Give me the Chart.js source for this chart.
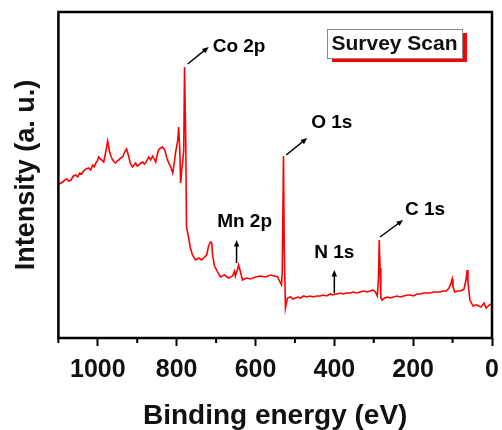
<!DOCTYPE html>
<html>
<head>
<meta charset="utf-8">
<script src="https://cdn.jsdelivr.net/npm/chart.js@4"></script>
<style>
    html, body { margin: 0; padding: 0; background: #ffffff; overflow: hidden; }
    #wrap { width: 502px; height: 430px; }
</style>
</head>
<body>
<div id="wrap"><canvas id="xpsChart" width="502" height="430"></canvas></div>
<script>
// Dados do espectro
const bindingEnergy = [
    1100, 1094, 1089, 1084, 1079, 1074, 1068, 1062, 1056, 1051, 1046, 1041, 1036, 1030, 1023, 1018, 1013, 1009, 1005,
    1001, 998, 994, 990, 985, 980, 975, 970, 966, 962, 958, 955, 951, 947, 942, 937,
    932, 927, 922, 917, 912, 908, 904, 900, 896, 891, 886, 882, 879, 875, 871,
    866, 861, 857, 853, 850, 846, 841, 836, 830, 825, 820, 815,
    810, 805, 803, 797, 795, 792, 790, 787, 785, 782,
    780, 777, 775, 770, 765, 760, 752, 744, 737, 729,
    724, 719, 714, 711, 709, 704, 696, 689, 679, 668,
    658, 653, 651, 646, 643, 638, 633, 623, 613, 600,
    587, 575, 562, 552, 544, 539, 534, 532, 529, 527,
    524, 519, 511, 505, 499, 492, 486, 478, 470, 461,
    453, 445, 436, 428, 420, 410, 404, 398, 392, 385,
    377, 370, 360, 352, 343, 334, 325, 317, 309, 302,
    296, 291, 288, 286, 284, 282, 279, 272, 265, 258,
    250, 241, 233, 224, 215, 208, 199, 190, 182, 173,
    165, 157, 148, 140, 132, 124, 116, 109, 104, 101,
    99, 94, 88, 81, 75, 71, 66, 63, 61, 56,
    48, 43, 38, 33, 28, 20, 15, 10, 3
];
const intensity = [
    153, 155, 156, 158, 159, 157, 158, 162, 163, 161, 165, 164, 167, 169, 170, 168, 173, 171, 175,
    177, 181, 179, 178, 176, 186, 197, 186, 181, 178, 176, 175, 177, 178, 180, 181,
    186, 189, 182, 174, 171, 173, 175, 172, 173, 175, 176, 174, 175, 178, 181,
    178, 182, 179, 176, 182, 188, 190, 191, 188, 180, 175, 171,
    165, 178, 185, 198, 211, 188, 155, 168, 175, 188,
    271, 198, 111, 101, 90, 83, 78, 80, 78, 81,
    83, 92, 96, 95, 83, 72, 66, 61, 63, 60,
    62, 67, 62, 68, 73, 66, 58, 60, 59, 61,
    62, 61, 63, 62, 61, 57, 53, 68, 182, 88,
    30, 40, 41, 39, 40, 41, 40, 42, 41, 42,
    41, 42, 42, 43, 42, 44, 43, 44, 44, 45,
    44, 45, 45, 46, 45, 46, 47, 46, 47, 48,
    46, 42, 60, 98, 70, 40, 38, 40, 41, 40,
    41, 42, 41, 42, 43, 43, 42, 44, 44, 45,
    45, 45, 46, 46, 46, 47, 47, 50, 55, 59,
    51, 46, 47, 47, 48, 49, 58, 68, 56, 38,
    32, 33, 33, 32, 31, 35, 30, 32, 34
];

const majorTicks = [1000, 800, 600, 400, 200, 0];
const minorTicks = [1100, 900, 700, 500, 300, 100];

// Rótulos dos picos
const peakNames = ['Co 2p', 'O 1s', 'C 1s', 'Mn 2p', 'N 1s'];
const peakEnergy = [772, 522, 284, 648, 400];
const peakLevel = [274, 183, 101, 75, 45];

const fontFamily = "'Liberation Sans', Arial, sans-serif";

// estilo das setas (deslocamentos em px)
const arrowStyle = [
    { dx: 21, dy: -17, tx: 4, ty: 0, align: 'left' },
    { dx: 21, dy: -17, tx: 4, ty: -15, align: 'left' },
    { dx: 23, dy: -17, tx: 2, ty: -10, align: 'left' },
    { dx: 0, dy: -23, tx: 8, ty: -18, align: 'center' },
    { dx: 0, dy: -23, tx: 0, ty: -17, align: 'center' }
];

function drawArrow(ctx, x1, y1, x2, y2) {
    const ang = Math.atan2(y2 - y1, x2 - x1);
    const head = 7;
    ctx.beginPath();
    ctx.moveTo(x1, y1);
    ctx.lineTo(x2 - Math.cos(ang) * head * 0.6, y2 - Math.sin(ang) * head * 0.6);
    ctx.stroke();
    ctx.beginPath();
    ctx.moveTo(x2, y2);
    ctx.lineTo(x2 - head * Math.cos(ang - 0.4), y2 - head * Math.sin(ang - 0.4));
    ctx.lineTo(x2 - head * Math.cos(ang + 0.4), y2 - head * Math.sin(ang + 0.4));
    ctx.closePath();
    ctx.fill();
}

// Moldura, marcas menores, anotações e legenda
const decorPlugin = {
    id: 'decor',
    afterDraw(chart) {
        const ctx = chart.ctx;
        const area = chart.chartArea;
        const xs = chart.scales.x;
        const ys = chart.scales.y;
        ctx.save();

        // marcas menores
        ctx.strokeStyle = '#000';
        ctx.lineWidth = 2;
        minorTicks.forEach(v => {
            const px = xs.getPixelForValue(v);
            ctx.beginPath();
            ctx.moveTo(px, area.bottom);
            ctx.lineTo(px, area.bottom + 5);
            ctx.stroke();
        });

        // moldura
        ctx.lineWidth = 2.5;
        ctx.strokeRect(area.left, area.top, area.right - area.left, area.bottom - area.top);

        // setas e nomes dos picos
        ctx.fillStyle = '#000';
        ctx.lineWidth = 1.5;
        ctx.font = 'bold 19px ' + fontFamily;
        ctx.textBaseline = 'middle';
        peakNames.forEach((name, i) => {
            const st = arrowStyle[i];
            const x1 = xs.getPixelForValue(peakEnergy[i]);
            const y1 = ys.getPixelForValue(peakLevel[i]);
            const x2 = x1 + st.dx;
            const y2 = y1 + st.dy;
            drawArrow(ctx, x1, y1, x2, y2);
            ctx.textAlign = st.align;
            ctx.fillText(name, x2 + st.tx, y2 + st.ty);
        });

        // caixa "Survey Scan"
        const bx = area.right - 165, by = area.top + 17, bw = 135, bh = 29;
        ctx.fillStyle = '#ff0000';
        ctx.fillRect(bx + 5, by + 4, bw, bh);
        ctx.fillStyle = '#fff';
        ctx.fillRect(bx, by, bw, bh);
        ctx.strokeStyle = '#888';
        ctx.lineWidth = 1;
        ctx.strokeRect(bx + 0.5, by + 0.5, bw, bh);
        ctx.fillStyle = '#111';
        ctx.font = 'bold 21px ' + fontFamily;
        ctx.textAlign = 'center';
        ctx.fillText('Survey Scan', bx + bw / 2, by + bh / 2 + 1);
        ctx.restore();
    }
};

new Chart(document.getElementById('xpsChart'), {
    type: 'line',
    data: {
        datasets: [{
            data: bindingEnergy.map((e, i) => ({ x: e, y: intensity[i] })),
            borderColor: '#ff0000',
            borderWidth: 1.6,
            pointRadius: 0,
            tension: 0,
            fill: false
        }]
    },
    options: {
        responsive: false,
        animation: false,
        devicePixelRatio: 1,
        layout: { padding: { left: 10, right: 10, top: 12, bottom: 0 } },
        plugins: {
            legend: { display: false },
            tooltip: { enabled: false }
        },
        scales: {
            x: {
                type: 'linear',
                reverse: true,
                min: 0,
                max: 1100,
                afterBuildTicks: scale => {
                    scale.ticks = majorTicks.map(v => ({ value: v }));
                },
                // o rótulo "0" fica cortado na borda, como no original
                afterFit: scale => {
                    scale.paddingRight = 0;
                },
                grid: {
                    drawOnChartArea: false,
                    drawTicks: true,
                    tickLength: 8,
                    tickWidth: 2,
                    tickColor: '#000'
                },
                border: { display: false },
                ticks: {
                    maxRotation: 0,
                    padding: 9,
                    color: '#111',
                    callback: v => String(v),
                    font: { family: fontFamily, size: 25, weight: 'bold' }
                },
                title: {
                    display: true,
                    text: 'Binding energy (eV)',
                    color: '#111',
                    padding: { top: 8, bottom: 0 },
                    font: { family: fontFamily, size: 28, weight: 'bold', lineHeight: 1.0 }
                }
            },
            y: {
                type: 'linear',
                min: 0,
                max: 326,
                grid: { display: false, drawTicks: false },
                border: { display: false },
                ticks: { display: false },
                title: {
                    display: true,
                    text: 'Intensity (a. u.)',
                    color: '#111',
                    padding: { top: 0, bottom: 16 },
                    font: { family: fontFamily, size: 27, weight: 'bold' }
                }
            }
        }
    },
    plugins: [decorPlugin]
});
</script>
</body>
</html>
